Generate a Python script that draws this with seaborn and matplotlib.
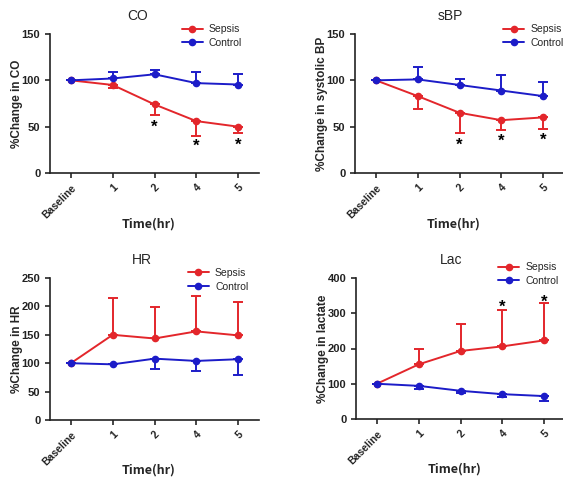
import numpy as np
import pandas as pd
import seaborn as sns
from matplotlib import pyplot as plt
from matplotlib.lines import Line2D

times = ['Baseline', '1', '2', '4', '5']

# CO
co_sepsis = [100, 95, 74, 56, 50]
co_sepsis_err = [0, 3, 11, 16, 7]          # drawn downward
co_control = [100, 102, 106.5, 97, 95.5]
co_control_err = [0, 7.5, 4.5, 12, 11]     # drawn upward
co_stars = [None, None, 55, 34, 35.5]

# sBP
sbp_sepsis = [100, 83, 65, 57, 60]
sbp_sepsis_err = [0, 14, 22, 11, 12]
sbp_control = [100, 101, 95, 89, 83]
sbp_control_err = [0, 13.5, 6, 16.5, 15]
sbp_stars = [None, None, 35, 39, 41]

# HR
hr_sepsis = [100, 150, 143.5, 156, 149]
hr_sepsis_err = [0, 65.5, 55.5, 63, 58]    # drawn upward
hr_control = [100, 98, 108, 104, 107]
hr_control_err = [0, 0, 18, 17, 27]        # drawn downward
hr_stars = [None, None, None, None, None]

# Lac
lac_sepsis = [100, 155, 193, 206, 223]
lac_sepsis_err = [0, 45, 76, 104.5, 106]
lac_control = [100, 94, 80, 70.5, 65]
lac_control_err = [0, 7.5, 7, 7.5, 14]
lac_stars = [None, None, None, 332, 344]

red = '#e3262b'
blue = '#1c1cc8'

sns.set_style('ticks')
plt.rcParams['font.family'] = ['Liberation Sans', 'DejaVu Sans']

fig = plt.figure(figsize=(5.63, 4.83), dpi=100)

panels = [
    # title, sepsis, s_err, s_dir, control, c_err, c_dir, stars, ymax, yticks, ylabel, rect, legend pos, title x, xlabel y
    ('CO', co_sepsis, co_sepsis_err, -1, co_control, co_control_err, 1, co_stars,
     150, [0, 50, 100, 150], '%Change in CO', [50/563, 1-173/483, 209/563, 139/483], (0.63, 1.07), 0.42, -0.32),
    ('sBP', sbp_sepsis, sbp_sepsis_err, -1, sbp_control, sbp_control_err, 1, sbp_stars,
     150, [0, 50, 100, 150], '%Change in systolic BP', [355/563, 1-173/483, 209/563, 139/483], (0.71, 1.07), 0.455, -0.32),
    ('HR', hr_sepsis, hr_sepsis_err, 1, hr_control, hr_control_err, -1, hr_stars,
     250, [0, 50, 100, 150, 200, 250], '%Change in HR', [50/563, 1-420/483, 209/563, 142/483], (0.66, 1.07), 0.44, -0.31),
    ('Lac', lac_sepsis, lac_sepsis_err, 1, lac_control, lac_control_err, -1, lac_stars,
     400, [0, 100, 200, 300, 400], '%Change in lactate', [356/563, 1-419/483, 209/563, 141/483], (0.68, 1.11), 0.455, -0.31),
]

for (title, sep, sep_err, sep_dir, ctl, ctl_err, ctl_dir, stars,
     ymax, yticks, ylabel, rect, leg_pos, title_x, xlab_y) in panels:
    ax = fig.add_axes(rect)
    x = np.arange(len(times))
    df = pd.DataFrame({'x': np.concatenate([x, x]),
                       'y': sep + ctl,
                       'group': ['Sepsis'] * len(times) + ['Control'] * len(times)})
    sns.lineplot(data=df, x='x', y='y', hue='group', palette={'Sepsis': red, 'Control': blue},
                 marker='o', markersize=5.5, markeredgewidth=0, linewidth=1.4, ax=ax, legend=False)
    for vals, errs, d, c in [(sep, sep_err, sep_dir, red), (ctl, ctl_err, ctl_dir, blue)]:
        errs = np.array(errs, dtype=float)
        yerr = [errs, np.zeros_like(errs)] if d < 0 else [np.zeros_like(errs), errs]
        ax.errorbar(x, vals, yerr=yerr, fmt='none', ecolor=c, elinewidth=1.4,
                    capsize=3.5, capthick=1.4)
    # significance marks (glyph sits high in its box, so nudge down)
    for xi, s in zip(x, stars):
        if s is not None:
            ax.annotate('*', (xi, s), xytext=(0, -3.5), textcoords='offset points',
                        ha='center', va='center', fontsize=12, fontweight='bold', color='black')

    ax.set_xlim(-0.5, 4.5)
    ax.set_ylim(0, ymax)
    ax.set_yticks(yticks)
    ax.set_xticks(x)
    ax.set_xticklabels(times, rotation=45, ha='right', rotation_mode='anchor',
                       fontsize=7.5, fontweight='bold', color='#222222')
    ax.tick_params(axis='y', labelsize=8, width=1.2, length=3.5, labelcolor='#222222')
    ax.tick_params(axis='x', width=1.2, length=3.5)
    for t in ax.get_yticklabels():
        t.set_fontweight('bold')
    sns.despine(ax=ax)
    for sp in ['left', 'bottom']:
        ax.spines[sp].set_linewidth(1.2)
        ax.spines[sp].set_color('#222222')
    ax.set_ylabel(ylabel, fontsize=8.5, fontweight='bold')
    ax.yaxis.set_label_coords(-0.13, 0.5)
    ax.set_xlabel('Time(hr)', fontsize=9, fontweight='bold',
                  family=['Noto Sans CJK JP', 'DejaVu Sans'])
    ax.xaxis.set_label_coords(0.47, xlab_y)
    ax.set_title(title, fontsize=10, x=title_x, pad=10)

    handles = [Line2D([0], [0], color=red, marker='o', markersize=5.5, markeredgewidth=0, linewidth=1.4),
               Line2D([0], [0], color=blue, marker='o', markersize=5.5, markeredgewidth=0, linewidth=1.4)]
    ax.legend(handles, ['Sepsis', 'Control'], loc='upper left', bbox_to_anchor=leg_pos,
              frameon=False, fontsize=7.5, handlelength=2.0, handletextpad=0.6,
              borderpad=0, borderaxespad=0, labelspacing=0.35)

fig.savefig('out.png', dpi=100)
